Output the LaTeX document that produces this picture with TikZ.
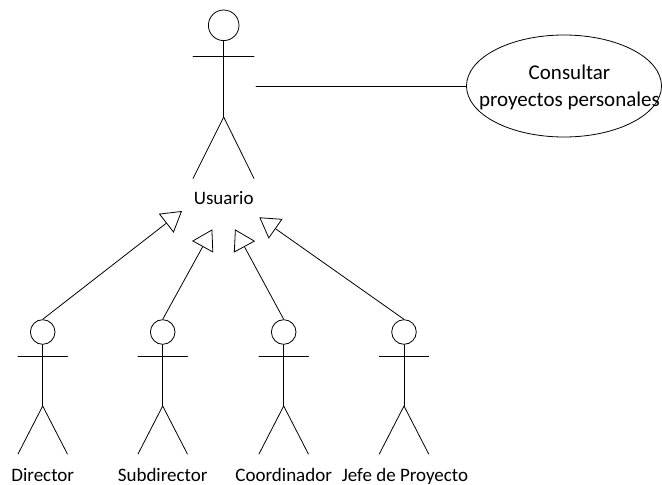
\documentclass[tikz,border=0pt]{standalone}
\usepackage{fontspec}
\setmainfont{Carlito}
\usetikzlibrary{shapes.geometric,arrows.meta}
\begin{document}
\begin{tikzpicture}[x=1pt,y=-1pt,
    head/.style ={circle, draw, thick, inner sep=0pt, minimum size=24.6pt},
    bighead/.style ={circle, draw, thick, inner sep=0pt, minimum size=30.6pt},
    caseuse/.style ={ellipse, draw, thick, inner sep=0pt, minimum width=195pt, minimum height=102pt},
    label/.style ={font=\fontsize{19}{23}\selectfont, inner sep=0pt, anchor=base},
    caselabel/.style ={font=\fontsize{21}{26.7}\selectfont, inner sep=0pt, align=center},
    limb/.style ={thick, line cap=round},
    inherit/.style ={thick, -{Triangle[open,length=20pt,width=24pt]}}]
   \useasboundingbox (0,0) rectangle (662,485);
   % big actor
   \node[bighead] (usuario) at (223.7,25.3) {};
   \coordinate (uhip) at (223.7,117);
   \coordinate (uarml) at (193,56);
   \coordinate (uarmr) at (254,56);
   \coordinate (ufootl) at (193,178.5);
   \coordinate (ufootr) at (254,178.5);
   \draw[limb] (usuario) to (uhip);
   \draw[limb] (uarml) to (uarmr);
   \draw[limb] (ufootl) to (uhip);
   \draw[limb] (ufootr) to (uhip);
   \node[label] (lusuario) at (223.7,204) {Usuario};
   % use case
   \node[caseuse] (consultar) at (564,86) {};
   \node[caselabel] (lconsultar) at (569.5,87.5) {Consultar\\proyectos personales};
   \coordinate (uhand) at (256,86);
   \draw[limb] (uhand) to (consultar);
   % small actors
   \foreach \name/\x/\lx/\txt in {director/42.7/42.7/Director, subdirector/162.7/162.7/Subdirector,
       coordinador/283.7/283.7/Coordinador, jefe/404/405/Jefe de Proyecto}{
     \node[head] (\name) at (\x,332) {};
     \coordinate (\name hip) at (\x,406);
     \coordinate (\name arml) at (\x-24.7,356.7);
     \coordinate (\name armr) at (\x+24.7,356.7);
     \coordinate (\name footl) at (\x-24.7,454);
     \coordinate (\name footr) at (\x+24.7,454);
     \draw[limb] (\name) to (\name hip);
     \draw[limb] (\name arml) to (\name armr);
     \draw[limb] (\name footl) to (\name hip);
     \draw[limb] (\name footr) to (\name hip);
     \node[label] (l\name) at (\lx,481) {\txt};
   }
   % generalizations
   \coordinate (tipa) at (182,211);
   \coordinate (tipb) at (212.3,229.3);
   \coordinate (tipc) at (235,229.3);
   \coordinate (tipd) at (259.3,217.3);
   \draw[inherit] (director.north) to (tipa);
   \draw[inherit] (subdirector.north) to (tipb);
   \draw[inherit] (coordinador.north) to (tipc);
   \draw[inherit] (jefe.north) to (tipd);
 \end{tikzpicture}
\end{document}
